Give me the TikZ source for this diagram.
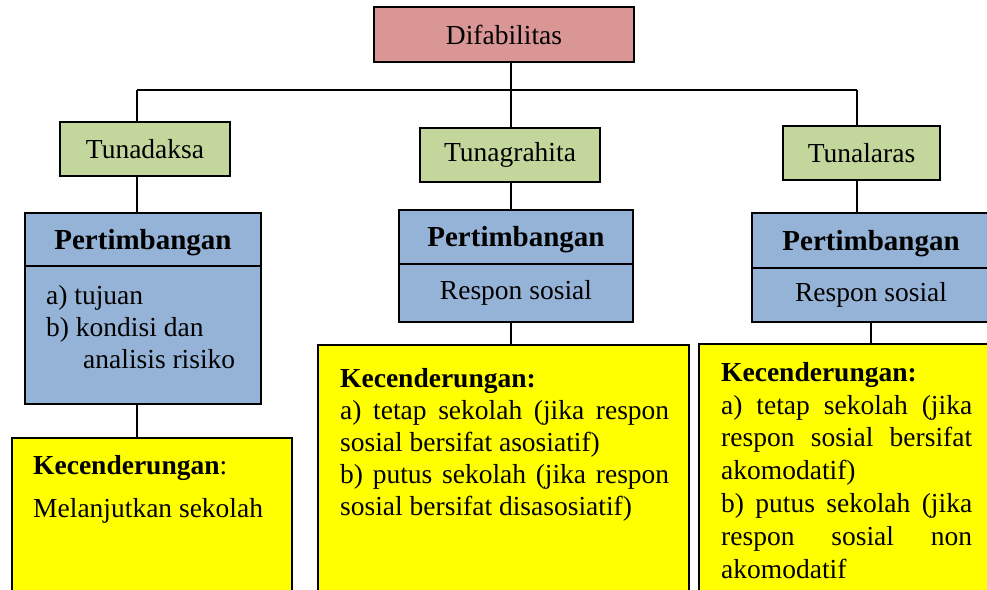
\documentclass[tikz,border=0pt]{standalone}
\usepackage{fontspec}
\setmainfont{Liberation Serif}
\definecolor{rootpink}{HTML}{D99694}
\definecolor{typegreen}{HTML}{C3D69B}
\definecolor{weighblue}{HTML}{95B3D7}
\definecolor{trendyellow}{HTML}{FFFF00}
\newcommand{\boxfont}{\fontsize{27.5}{32}\selectfont}
\tikzset{
  box/.style={draw, line width=1.8pt, inner sep=0pt, font=\boxfont},
  rootbox/.style={box, fill=rootpink},
  typebox/.style={box, fill=typegreen, minimum height=54pt},
  headbox/.style={box, fill=weighblue, font=\fontsize{29}{32}\selectfont\bfseries},
  bodybox/.style={box, fill=weighblue},
  trendbox/.style={box, fill=trendyellow},
  trendtext/.style={inner sep=0pt, anchor=north west, align=left, font=\boxfont},
  link/.style={line width=1.8pt}
}

\begin{document}
\begin{tikzpicture}[x=1pt,y=-1pt]
\clip (0,0) rectangle (987,589);
\fill[white] (0,0) rectangle (987,589);

% root and the three types
\node[rootbox, minimum width=260pt, minimum height=55pt] (dif) at (504,34.5) {Difabilitas};
\node[typebox, minimum width=170pt] (tda) at (145,149) {Tunadaksa};
\node[typebox, minimum width=180pt] (tgr) at (510,155) {Tunagrahita};
\node[typebox, minimum width=157pt] (tll) at (861.5,153) {Tunalaras};

% pertimbangan
\node[headbox, minimum width=236pt, minimum height=53pt, text depth=1pt] (hl) at (143,239.5) {Pertimbangan};
\node[bodybox, minimum width=236pt, minimum height=138pt] (bl) at (143,335) {};
\node[headbox, minimum width=234pt, minimum height=54pt, text depth=1pt] (hm) at (516,237) {Pertimbangan};
\node[bodybox, minimum width=234pt, minimum height=58pt] (bm) at (516,293) {Respon sosial};
\node[headbox, minimum width=238pt, minimum height=55pt, text depth=1pt] (hr) at (871,240.5) {Pertimbangan};
\node[bodybox, minimum width=238pt, minimum height=54pt] (br) at (871,295) {Respon sosial};

\node[trendtext] (tl) at (46,285) {a) tujuan\\ b) kondisi dan\\ \hspace*{37pt}analisis risiko};

% kecenderungan
\node[trendbox, minimum width=280pt, minimum height=182pt] (yl) at (152,529) {};
\node[trendbox, minimum width=371pt, minimum height=275pt] (ym) at (503.5,482.5) {};
\node[trendbox, minimum width=301pt, minimum height=276pt] (yr) at (849.5,482) {};

\node[trendtext] (kl) at (33,455) {\textbf{Kecenderungan}:\\[11pt] Melanjutkan sekolah};
\node[trendtext] (km) at (340,368) {\textbf{Kecenderungan:}\\
  \makebox[329pt][s]{a) tetap sekolah (jika respon}\\
  sosial bersifat asosiatif)\\
  \makebox[329pt][s]{b) putus sekolah (jika respon}\\
  sosial bersifat disasosiatif)};
\node[trendtext, font=\fontsize{27.5}{32.8}\selectfont] (kr) at (721,362) {\textbf{Kecenderungan:}\\
  \makebox[251pt][s]{a) tetap sekolah (jika}\\
  \makebox[251pt][s]{respon sosial bersifat}\\
  akomodatif)\\
  \makebox[251pt][s]{b) putus sekolah (jika}\\
  \makebox[251pt][s]{respon sosial non}\\
  akomodatif};

% connectors
\coordinate (busl) at (137,90);
\coordinate (busm) at (511,90);
\coordinate (busr) at (857,90);
\draw[link] (busl) -- (busr);
\draw[link] (busm |- dif.south) -- (busm |- tgr.north);
\draw[link] (busl) -- (busl |- tda.north);
\draw[link] (busr) -- (busr |- tll.north);
\draw[link] (busl |- tda.south) -- (busl |- hl.north);
\draw[link] (busl |- bl.south) -- (busl |- yl.north);
\draw[link] (busm |- tgr.south) -- (busm |- hm.north);
\draw[link] (busm |- bm.south) -- (busm |- ym.north);
\draw[link] (busr |- tll.south) -- (busr |- hr.north);
\draw[link] (br.south) -- (br.south |- yr.north);
\end{tikzpicture}
\end{document}
